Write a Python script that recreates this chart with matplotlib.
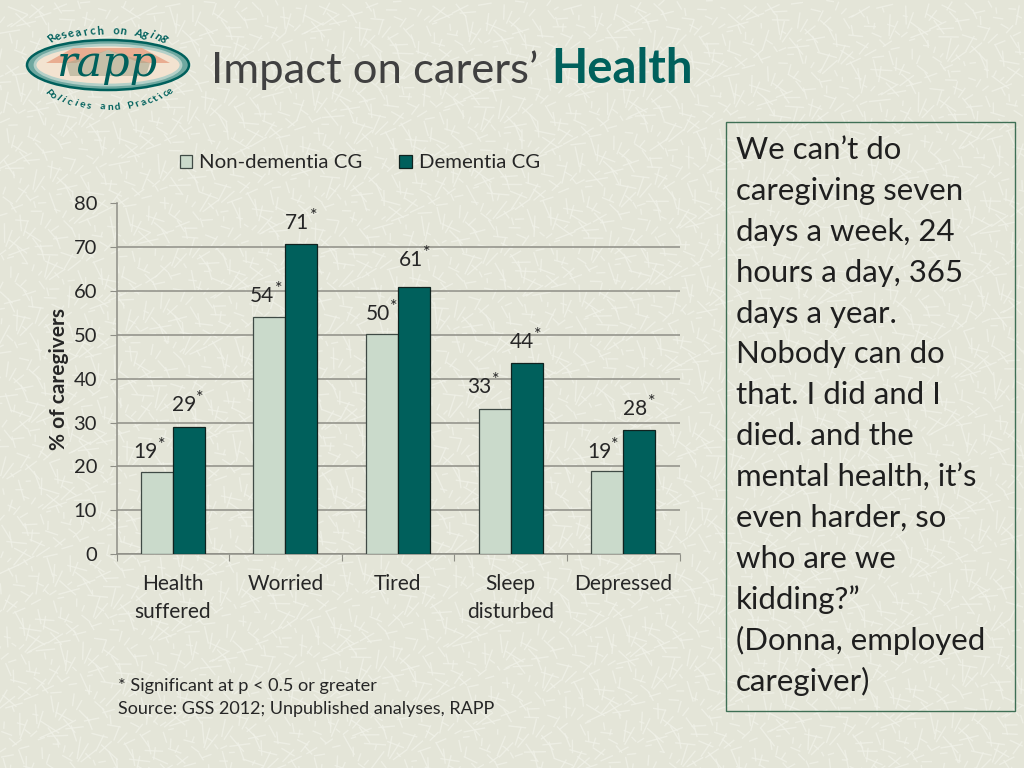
import numpy as np
import matplotlib
matplotlib.use("Agg")
import matplotlib.pyplot as plt
from matplotlib.collections import LineCollection
from matplotlib.patches import Ellipse, Polygon, Rectangle

categories = ["Health\nsuffered", "Worried", "Tired", "Sleep\ndisturbed", "Depressed"]
non_dementia = [18.7, 54.2, 50.2, 33.2, 19.0]
dementia = [29.0, 70.8, 61.0, 43.7, 28.2]
non_labels = ["19", "54", "50", "33", "19"]
dem_labels = ["29", "71", "61", "44", "28"]
quote_lines = ["We can\u2019t do", "caregiving seven", "days a week, 24", "hours a day, 365",
               "days a year.", "Nobody can do", "that. I did and I", "died. and the",
               "mental health, it\u2019s", "even harder, so", "who are we", "kidding?\u201d",
               "(Donna, employed", "caregiver)"]

# Hand-placed label offsets from each bar's top centre, in pixels
non_dx = [-11, -7, -4, -15, -8]
non_dy = [20, 21, 20, 22, 19]
dem_dx = [-5, -4, -3, -5, -4]
dem_dy = [22, 21, 27, 21, 21]

W, H = 1024, 768
BG, TEAL, PALE = "#E4E5D8", "#00605C", "#CADACB"
DARK, GRID = "#262626", "#8E8E86"
plt.rcParams["font.family"] = ["Lato", "DejaVu Sans"]

fig = plt.figure(figsize=(W / 100, H / 100), dpi=100, facecolor=BG)
bg = fig.add_axes([0, 0, 1, 1], zorder=0)
bg.set_xlim(0, W); bg.set_ylim(H, 0); bg.axis("off")

# Decorative paper texture from a deterministic low-discrepancy sequence
n = 6500
i = np.arange(1, n + 1)
tx, ty = (i * 0.7548776662 % 1) * W, (i * 0.5698402910 % 1) * H
ang = (i * 0.6180339887 % 1) * np.pi
ln = 5 + (i * 0.4142135 % 1) * 18
segs = np.stack([np.c_[tx, ty], np.c_[tx + ln * np.cos(ang), ty + ln * np.sin(ang)]], axis=1)
bg.add_collection(LineCollection(segs, colors="#F0F1E8", linewidths=1.0, alpha=0.8, zorder=0))

# Logo
cx, cy = 108, 65
bg.add_patch(Ellipse((cx, cy), 162, 50, fc="#6FA8A0", ec=TEAL, lw=1.8, zorder=2))
bg.add_patch(Ellipse((cx, cy), 146, 40, fc="#F3E3D0", ec="#B4D0C8", lw=2, zorder=2))
bg.add_patch(Polygon([(46, 63), (73, 48), (142, 48), (170, 63), (140, 63), (108, 50), (76, 63)],
                     fc="#E8A486", ec="none", alpha=0.85, zorder=2))
bg.add_patch(Polygon([(66, 63), (108, 50), (150, 63), (146, 76), (70, 76)],
                     fc="#A9A88E", ec="none", alpha=0.6, zorder=2))
bg.text(cx, 64, "rapp", family="DejaVu Serif", style="italic", fontsize=31,
        color=TEAL, ha="center", va="center", zorder=3)

def arc(text, start, end, ox, oy, a, b, fs):
    for ch, t in zip(text, np.linspace(start, end, len(text))):
        r = np.radians(t)
        px, py = ox + a * np.cos(r), oy - b * np.sin(r)
        rot = t - 90 if 0 < t < 180 else t + 90
        bg.text(px, py, ch, fontsize=fs, color=TEAL, ha="center", va="center",
                rotation=rot, rotation_mode="anchor", fontweight="bold", zorder=3)

arc("Research on Aging", 131, 49, 108, 60, 86, 29, 8)
arc("Policies and Practice", 218, 325, 108, 70, 76, 37, 7.5)

# Title
bg.text(211, 70, "Impact on carers\u2019", fontsize=31.3, color="#404040", va="center", ha="left")
bg.text(551, 69, "Health", fontsize=34, color=TEAL, va="center", ha="left", fontweight="bold")

# Chart
ax = fig.add_axes([116.5 / W, 1 - 554 / H, 563 / W, 350.5 / H], zorder=2)
ax.patch.set_alpha(0)
x = np.arange(len(categories))
bw = 0.285
ax.bar(x - bw / 2, non_dementia, bw, color=PALE, edgecolor="#3F4A45", lw=0.9, zorder=3, label="Non-dementia CG")
ax.bar(x + bw / 2, dementia, bw, color=TEAL, edgecolor="#10221F", lw=0.9, zorder=3, label="Dementia CG")
ax.set_xlim(-0.5, 4.5); ax.set_ylim(0, 80)
ax.set_yticks(range(0, 81, 10))
ax.set_xticks(np.arange(-0.5, 5, 1))
ax.set_xticklabels([])
ax.yaxis.grid(True, color=GRID, lw=1.1, zorder=1)
ax.set_axisbelow(True)
for s in ("top", "right"):
    ax.spines[s].set_visible(False)
for s in ("left", "bottom"):
    ax.spines[s].set_color(GRID); ax.spines[s].set_linewidth(1.1)
ax.tick_params(axis="y", length=5, color=GRID, labelsize=14.5, labelcolor=DARK, pad=9)
ax.tick_params(axis="x", length=5, color=GRID)
for xi, c in zip(x, categories):
    ax.annotate(c, (xi, 0), xytext=(0, -14.5), xycoords="data", textcoords="offset points",
                ha="center", va="top", fontsize=15, color=DARK, linespacing=1.5)
ax.set_ylabel("% of caregivers", fontsize=15, fontweight="bold", color=DARK, labelpad=3)

def value_labels(xs, vals, labels, dxs, dys):
    for xi, v, lab, dx, dy in zip(xs, vals, labels, dxs, dys):
        ax.annotate(lab, (xi, v), xytext=(dx, dy), textcoords="offset pixels", ha="center",
                    va="center", fontsize=15, color=DARK, zorder=5)
        ax.annotate("*", (xi, v), xytext=(dx + 16, dy + 7), textcoords="offset pixels", ha="center",
                    va="center", fontsize=13, color=DARK, zorder=5)

value_labels(x - bw / 2, non_dementia, non_labels, non_dx, non_dy)
value_labels(x + bw / 2, dementia, dem_labels, dem_dx, dem_dy)

leg = fig.legend(loc="center", bbox_to_anchor=(360 / W, 1 - 163 / H), ncol=2, frameon=False,
                 fontsize=14.7, labelcolor=DARK, handlelength=0.62, handleheight=0.62,
                 handletextpad=0.35, columnspacing=1.8)

# Footnote
bg.text(118, 686, "* Significant at p < 0.5 or greater", fontsize=13.1, color=DARK, va="center")
bg.text(118, 709, "Source: GSS 2012; Unpublished analyses, RAPP", fontsize=13, color=DARK, va="center")

# Quote box
bg.add_patch(Rectangle((726, 122), 289, 589, fc="none", ec="#3F6F55", lw=1, zorder=3))
for k, line in enumerate(quote_lines):
    bg.text(736, 150 + k * 40.9, line, fontsize=22.4, color="#1F1F1F", va="center", ha="left")

fig.savefig("out.png", dpi=100, facecolor=BG)
